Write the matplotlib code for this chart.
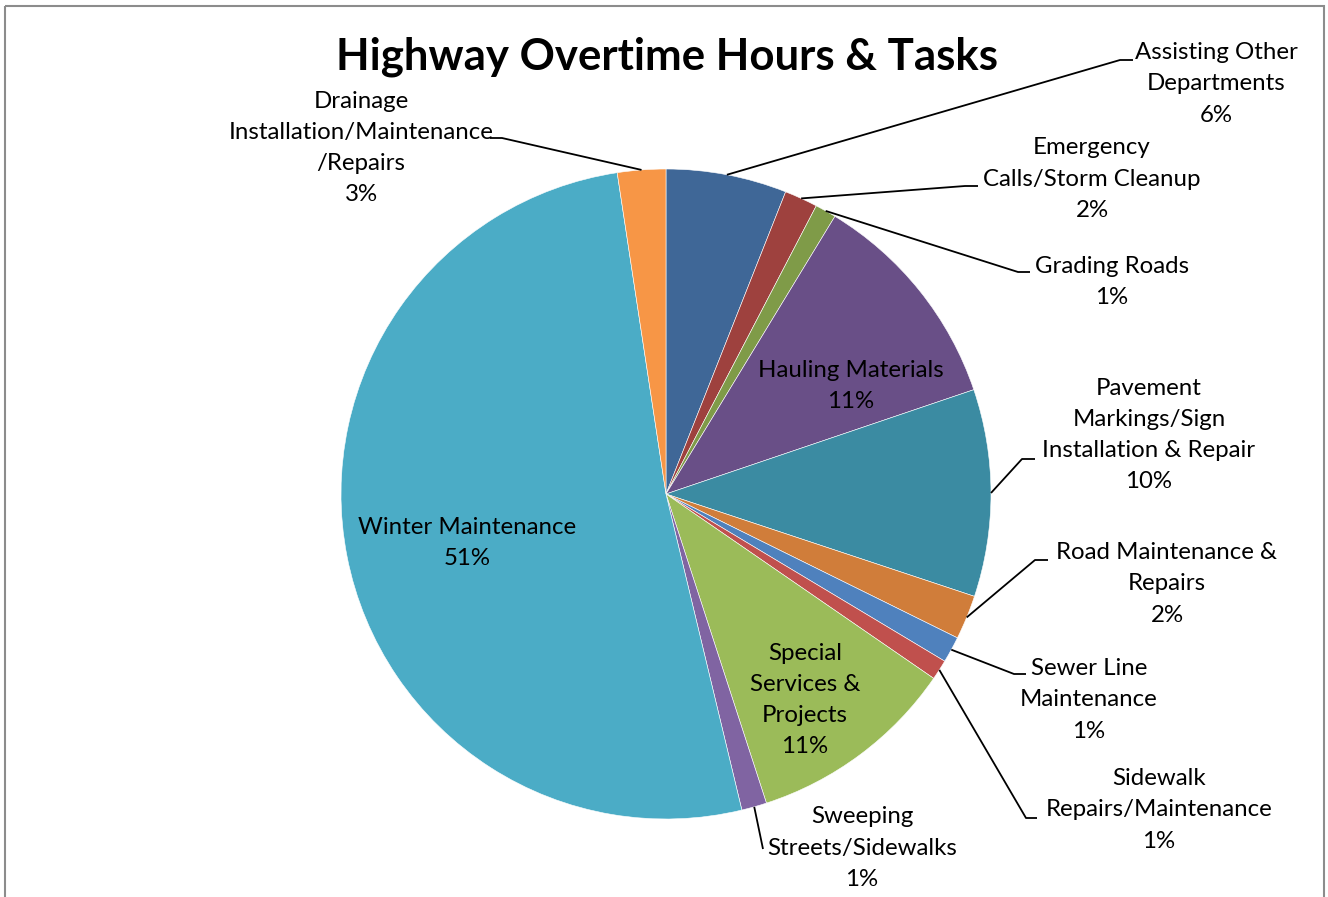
import numpy as np
import matplotlib
matplotlib.use("Agg")
import matplotlib.pyplot as plt
from matplotlib.patches import Rectangle

plt.rcParams['font.family'] = ['Lato', 'DejaVu Sans']

# slices, clockwise from 12 o'clock
tasks = ["Assisting Other\nDepartments", "Emergency\nCalls/Storm Cleanup", "Grading Roads",
         "Hauling Materials", "Pavement\nMarkings/Sign\nInstallation & Repair",
         "Road Maintenance &\nRepairs", "Sewer Line\nMaintenance", "Sidewalk\nRepairs/Maintenance",
         "Special\nServices &\nProjects", "Sweeping\nStreets/Sidewalks", "Winter Maintenance",
         "Drainage\nInstallation/Maintenance\n/Repairs"]
shares = [6.0, 1.65, 1.05, 11.1, 10.3, 2.2, 1.3, 1.0, 10.4, 1.25, 51.35, 2.4]
pct_labels = ["6%", "2%", "1%", "11%", "10%", "2%", "1%", "1%", "11%", "1%", "51%", "3%"]
colors = ["#3F6797", "#9E413E", "#7F9B48", "#694F87", "#3B8BA2", "#D07D3A",
          "#4F81BD", "#C0504D", "#9BBB59", "#8064A2", "#4BACC6", "#F79646"]

# label layout in pixels: text centre, and elbow/end of leader (None = inside label)
label_pos = [(1216, 84), (1092, 179), (1112, 282), (851, 386), (1149, 435), (1167, 584),
             (1089, 700), (1159, 810), (805, 700), (862, 848), (467, 543), (361, 148)]
leader = [((1120, 60), (1133, 60)), ((965, 186), (978, 186)), ((1018, 272), (1030, 272)),
          None, ((1022, 459), (1035, 459)), ((1035, 560), (1048, 560)),
          ((1014, 674), (1026, 674)), ((1026, 818), (1037, 818)), None,
          ((763, 849), (763, 849)), None, ((502, 138), (490, 138))]

cx, cy, r = 666, 494, 325

fig = plt.figure(figsize=(13.28, 8.97), dpi=100)
ax = fig.add_axes([0, 0, 1, 1])
ax.pie(shares, colors=colors, center=(cx, cy), radius=r, startangle=-90, counterclock=True,
       wedgeprops=dict(edgecolor="white", linewidth=0.4), frame=True)
ax.set_xlim(0, 1328)
ax.set_ylim(897, 0)
ax.set_aspect("equal")
ax.axis("off")

cum = np.cumsum([0] + shares)
tot = cum[-1]
for i, name in enumerate(tasks):
    tx, ty = label_pos[i]
    ax.text(tx, ty, name + "\n" + pct_labels[i], ha="center", va="center",
            fontsize=17.3, linespacing=1.6, color="black")
    if leader[i] is not None:
        a = np.radians((cum[i] + cum[i + 1]) / 2 / tot * 360)
        sx, sy = cx + r * np.sin(a), cy - r * np.cos(a)
        (ex, ey), (fx, fy) = leader[i]
        ax.plot([sx, ex, fx], [sy, ey, fy], color="black", lw=1.3, solid_capstyle="butt")

ax.text(667, 57, "Highway Overtime Hours & Tasks", ha="center", va="center",
        fontsize=31.5, fontweight="bold")

ax.add_patch(Rectangle((5, 6), 1319, 1000, fill=False, edgecolor="#8C8C8C", lw=1.5, clip_on=False))

fig.savefig("out.png", dpi=100)
